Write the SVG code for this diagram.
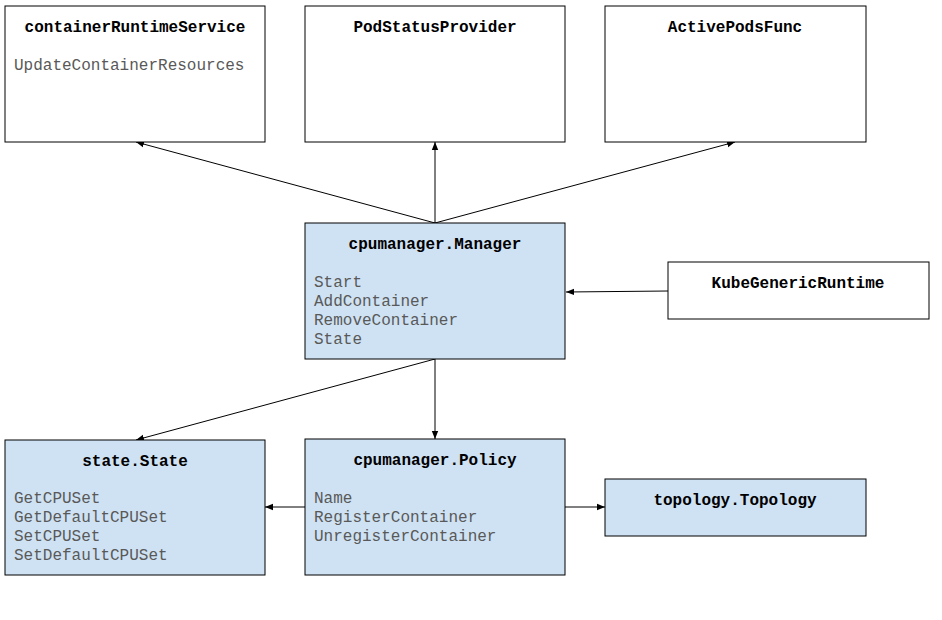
<svg xmlns="http://www.w3.org/2000/svg" width="942" height="620" viewBox="0 0 942 620">
<style>
.box{stroke:#000;stroke-width:1}
.w{fill:#fff}
.b{fill:#cfe2f3}
.t{font-family:"Liberation Mono","Courier New",monospace;font-size:16px;font-weight:bold;fill:#000;text-anchor:middle}
.m{font-family:"Liberation Mono","Courier New",monospace;font-size:16px;fill:#595959}
.c{stroke:#000;stroke-width:1;fill:none;marker-end:url(#ah)}
</style>
<defs>
<marker id="ah" viewBox="0 0 10 10" refX="10" refY="5" markerWidth="8" markerHeight="8" markerUnits="userSpaceOnUse" orient="auto">
<path d="M0,1 L10,5 L0,9 z" fill="#000"/>
</marker>
</defs>
<rect width="942" height="620" fill="#fff"/>
<g id="connectors">
<line class="c" x1="435" y1="223" x2="136" y2="142"/>
<line class="c" x1="435" y1="223" x2="435" y2="142"/>
<line class="c" x1="435" y1="223" x2="735" y2="142"/>
<line class="c" x1="668" y1="291" x2="566" y2="292"/>
<line class="c" x1="435" y1="359" x2="136" y2="440"/>
<line class="c" x1="435" y1="359" x2="435" y2="439"/>
<line class="c" x1="305" y1="507" x2="265" y2="507"/>
<line class="c" x1="565" y1="507" x2="605" y2="507"/>
</g>
<g id="containerRuntimeService">
<rect class="box w" x="5" y="6" width="260" height="136"/>
<text class="t" x="135" y="32">containerRuntimeService</text>
<text class="m" x="14" y="70">UpdateContainerResources</text>
</g>
<g id="PodStatusProvider">
<rect class="box w" x="305" y="6" width="260" height="136"/>
<text class="t" x="435" y="32">PodStatusProvider</text>
</g>
<g id="ActivePodsFunc">
<rect class="box w" x="605" y="6" width="261" height="136"/>
<text class="t" x="735" y="32">ActivePodsFunc</text>
</g>
<g id="Manager">
<rect class="box b" x="305" y="223" width="260" height="136"/>
<text class="t" x="435" y="249">cpumanager.Manager</text>
<text class="m" x="314" y="287">Start</text>
<text class="m" x="314" y="306">AddContainer</text>
<text class="m" x="314" y="325">RemoveContainer</text>
<text class="m" x="314" y="344">State</text>
</g>
<g id="KubeGenericRuntime">
<rect class="box w" x="668" y="262" width="261" height="57"/>
<text class="t" x="798" y="288">KubeGenericRuntime</text>
</g>
<g id="State">
<rect class="box b" x="5" y="440" width="260" height="135"/>
<text class="t" x="135" y="466">state.State</text>
<text class="m" x="14" y="503">GetCPUSet</text>
<text class="m" x="14" y="522">GetDefaultCPUSet</text>
<text class="m" x="14" y="541">SetCPUSet</text>
<text class="m" x="14" y="560">SetDefaultCPUSet</text>
</g>
<g id="Policy">
<rect class="box b" x="305" y="439" width="260" height="136"/>
<text class="t" x="435" y="465">cpumanager.Policy</text>
<text class="m" x="314" y="503">Name</text>
<text class="m" x="314" y="522">RegisterContainer</text>
<text class="m" x="314" y="541">UnregisterContainer</text>
</g>
<g id="Topology">
<rect class="box b" x="605" y="479" width="261" height="57"/>
<text class="t" x="735" y="505">topology.Topology</text>
</g>
</svg>
